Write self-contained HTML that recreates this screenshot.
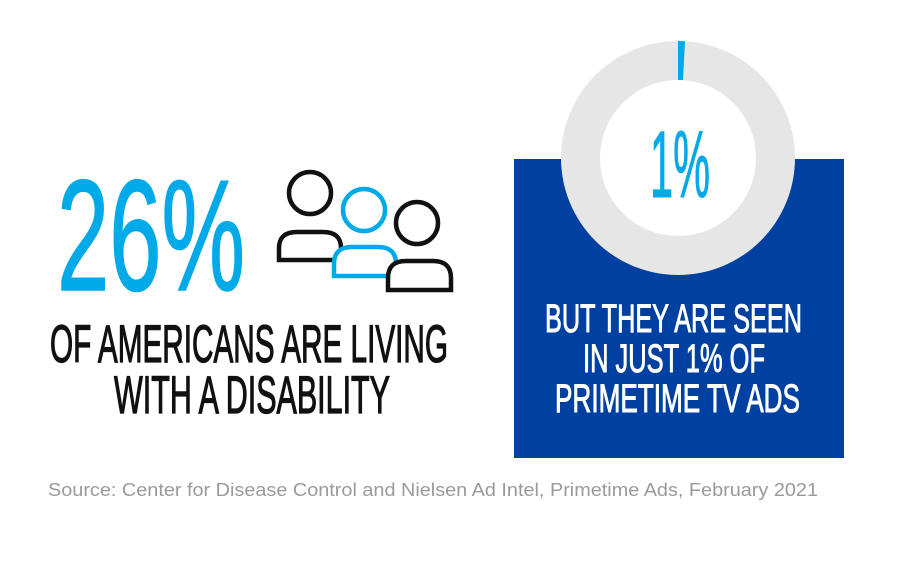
<!DOCTYPE html>
<html><head><meta charset="utf-8"><style>html,body{margin:0;padding:0;background:#fff}svg{display:block}</style></head>
<body>
<svg width="900" height="565" viewBox="0 0 900 565" xmlns="http://www.w3.org/2000/svg" font-family="'Liberation Sans', sans-serif">
<rect width="900" height="565" fill="#fff"/>
<!-- left -->
<text x="57" y="290" font-size="158" fill="#00a9e8" stroke="#00a9e8" stroke-width="1.5" textLength="188" lengthAdjust="spacingAndGlyphs">26%</text>
<g fill="none" stroke-width="4.5">
<circle cx="310" cy="193" r="21" stroke="#111"/>
<path d="M279 260 V248 Q279 232 297 232 H323 Q341 232 341 248 V260 Z" stroke="#111" fill="#fff"/>
<circle cx="364" cy="210" r="21" stroke="#00a9e8"/>
<path d="M334 276 V264 Q334 247 352 247 H378 Q396 247 396 264 V276 Z" stroke="#00a9e8" fill="#fff"/>
<circle cx="417" cy="223" r="21" stroke="#111"/>
<path d="M388 290 V278 Q388 261 406 261 H433 Q451 261 451 278 V290 Z" stroke="#111" fill="#fff"/>
</g>
<text x="50" y="362" font-size="53" fill="#111" stroke="#111" stroke-width="1.3" textLength="398" lengthAdjust="spacingAndGlyphs">OF AMERICANS ARE LIVING</text>
<text x="114" y="413" font-size="53" fill="#111" stroke="#111" stroke-width="1.3" textLength="276" lengthAdjust="spacingAndGlyphs">WITH A DISABILITY</text>
<!-- right -->
<rect x="514" y="159" width="330" height="299" fill="#0040a0"/>
<circle cx="678" cy="158" r="117" fill="#e6e6e6"/>
<circle cx="678" cy="158" r="78" fill="#fff"/>
<path d="M678 41 L685 41.3 L683 80 L678 80 Z" fill="#00a9e8"/>
<text x="650" y="197" font-size="95" fill="#00a9e8" stroke="#00a9e8" stroke-width="1" textLength="60" lengthAdjust="spacingAndGlyphs">1%</text>
<g fill="#fff" stroke="#fff" stroke-width="1" font-size="40">
<text x="545" y="332" textLength="257" lengthAdjust="spacingAndGlyphs">BUT THEY ARE SEEN</text>
<text x="583" y="372" textLength="182" lengthAdjust="spacingAndGlyphs">IN JUST 1% OF</text>
<text x="555" y="412" textLength="245" lengthAdjust="spacingAndGlyphs">PRIMETIME TV ADS</text>
</g>
<text x="48" y="496" font-size="18" fill="#9a9a9a" textLength="770" lengthAdjust="spacingAndGlyphs">Source: Center for Disease Control and Nielsen Ad Intel, Primetime Ads, February 2021</text>
</svg>
</body></html>
